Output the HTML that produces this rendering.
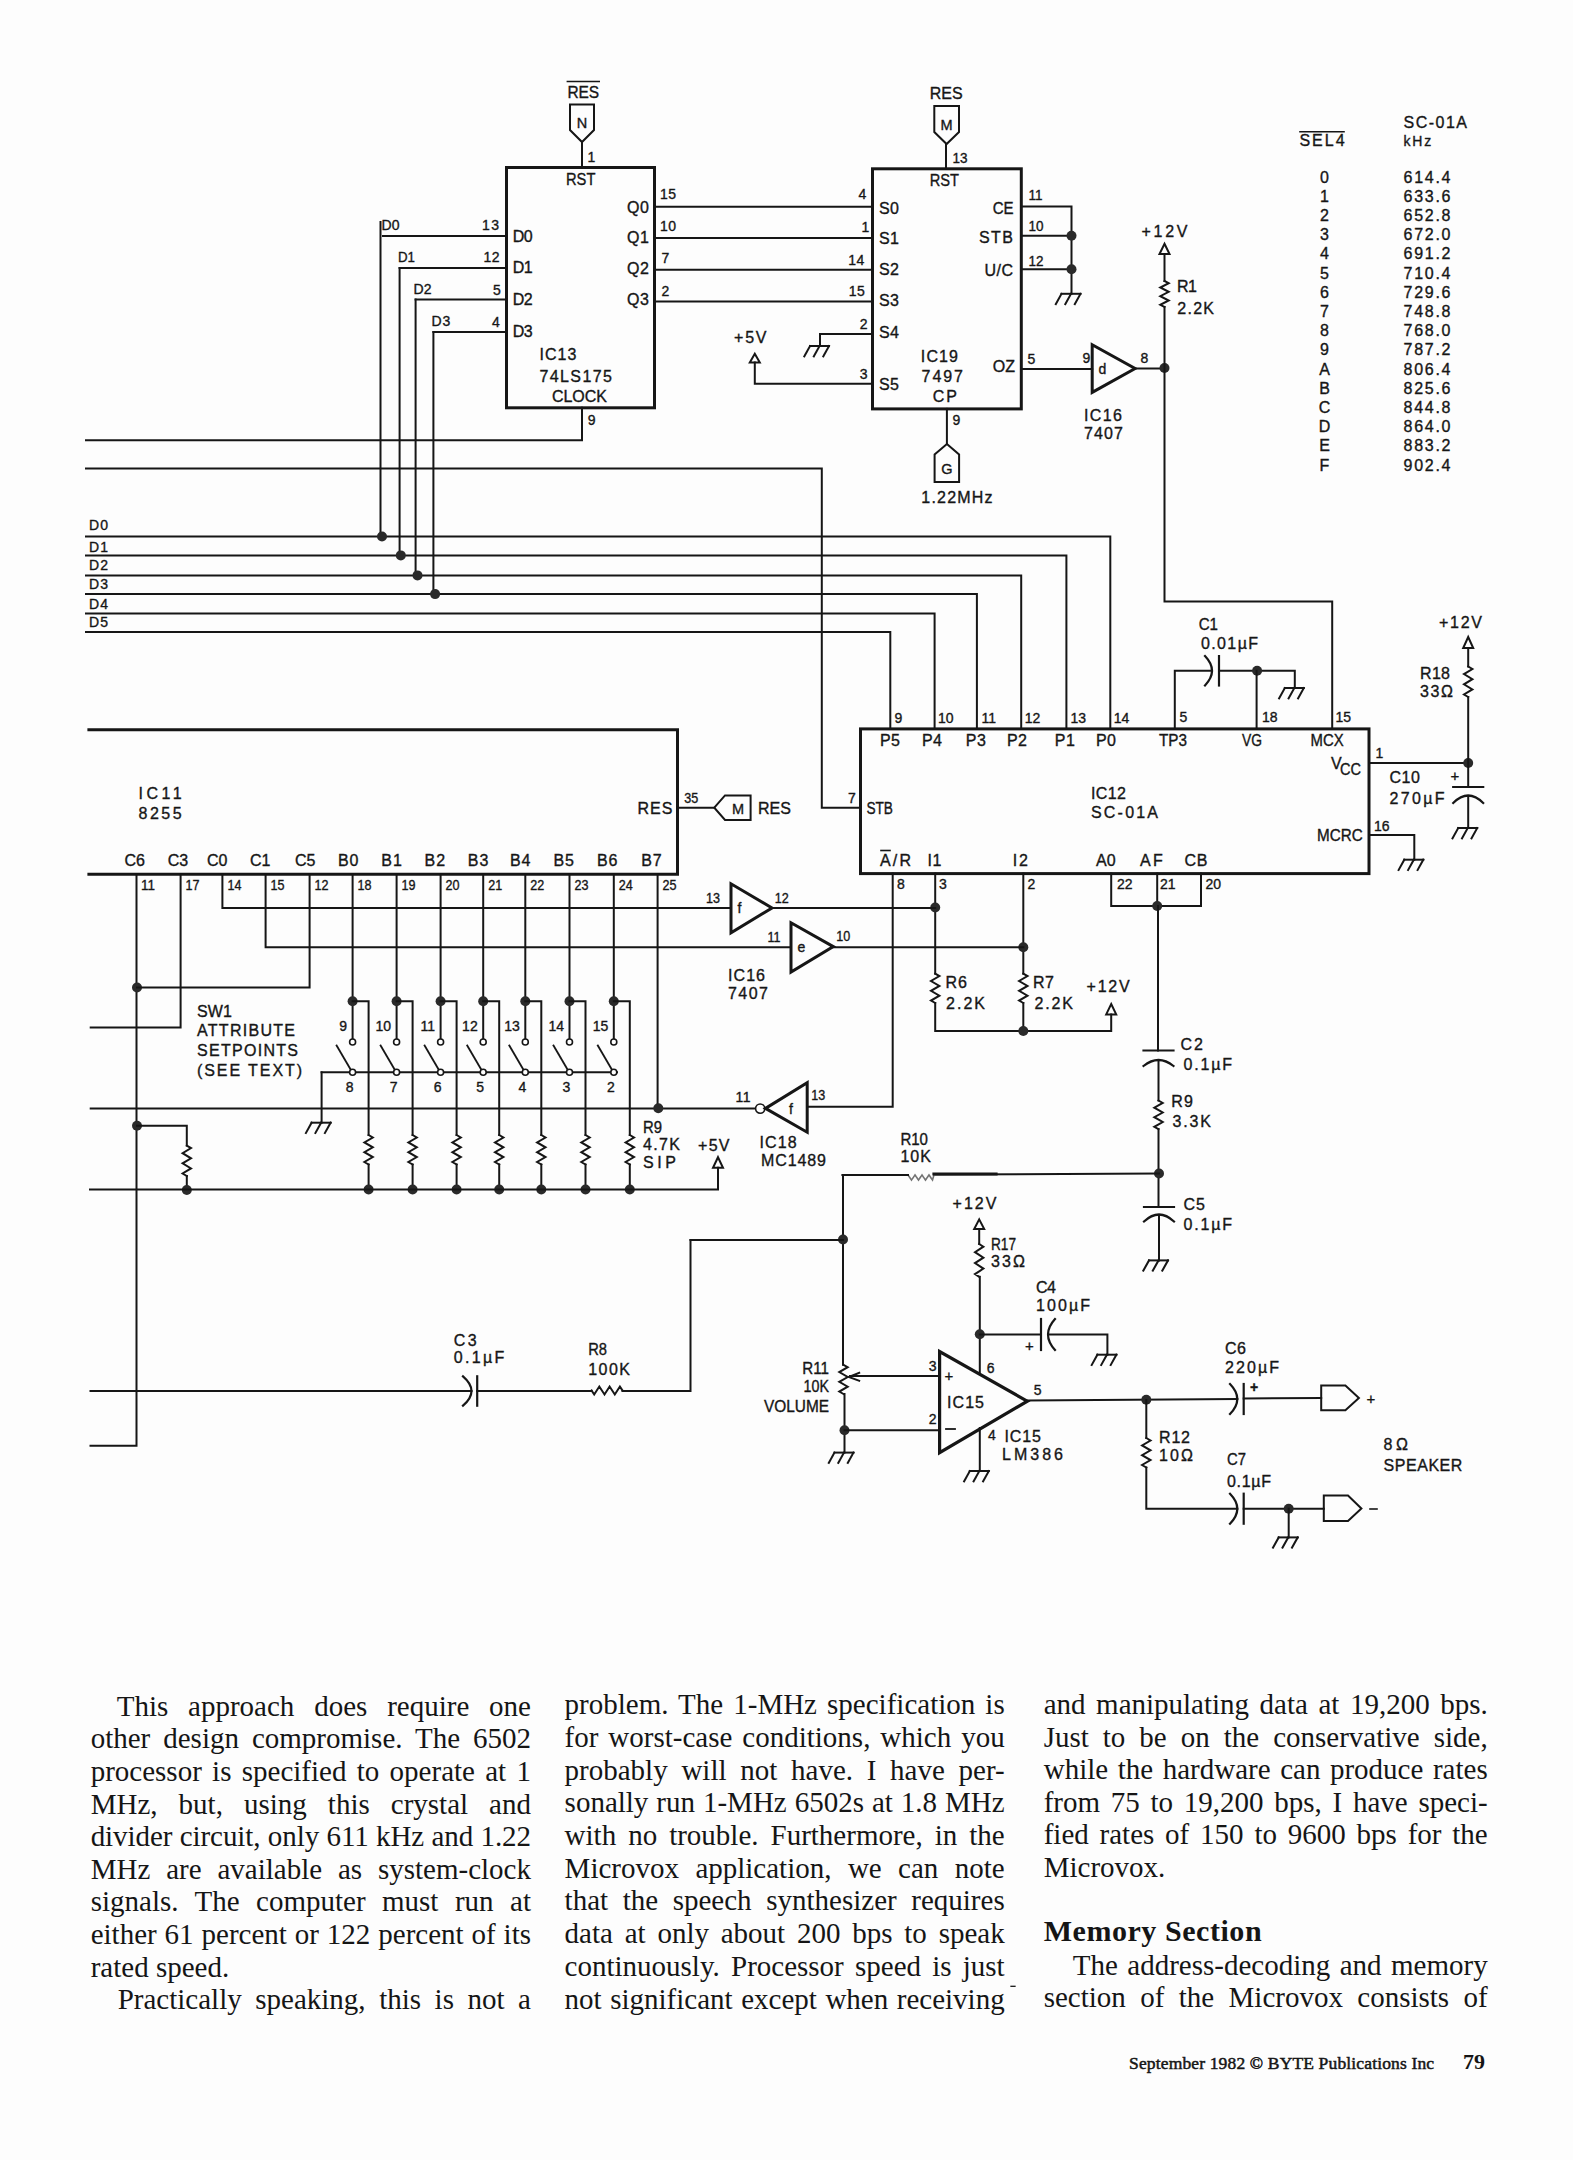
<!DOCTYPE html>
<html><head><meta charset="utf-8"><title>BYTE p79</title>
<style>
html,body{margin:0;padding:0;background:#fdfdfd;}
#pg{position:relative;width:1573px;height:2160px;overflow:hidden;background:#fdfdfd;}
svg{position:absolute;left:0;top:0;}
svg polyline,svg polygon,svg rect,svg path{fill:none;stroke:#161616;stroke-linecap:square;stroke-linejoin:miter;}
svg polygon{stroke-linejoin:miter;}
svg text{font-family:"Liberation Sans",sans-serif;fill:#161616;stroke:#161616;stroke-width:0.35px;}
.ln{position:absolute;height:40px;white-space:nowrap;font-family:"Liberation Serif",serif;font-size:29px;color:#151515;line-height:40px;}
.ln span{position:absolute;left:0;bottom:0;}
.j{text-align:justify;text-align-last:justify;white-space:nowrap;}
.hd{font-weight:bold;font-size:30px;letter-spacing:0.55px;}
.ft{font-family:"Liberation Serif",serif;font-weight:normal;font-size:17.5px;-webkit-text-stroke:0.5px #151515;letter-spacing:0.15px;}
.ft2{font-family:"Liberation Serif",serif;font-weight:bold;font-size:22px;}
</style></head><body><div id="pg">
<svg width="1573" height="2160" viewBox="0 0 1573 2160">
<rect x="506.5" y="167.5" width="148" height="240.3" stroke-width="3"/>
<text x="567.4" y="97.6" font-size="16" textLength="31.8" lengthAdjust="spacingAndGlyphs">RES</text>
<polyline points="567.4,81.5 599.2,81.5" stroke-width="1.6"/>
<polygon points="570,104.5 594,104.5 594,130 582,142 570,130" stroke-width="2" fill="none"/>
<text x="582" y="127.5" font-size="14.5" text-anchor="middle">N</text>
<polyline points="582,142 582,167.5" stroke-width="2"/>
<text x="587.5" y="161.5" font-size="14">1</text>
<text x="566" y="184.6" font-size="16" textLength="29.4" lengthAdjust="spacingAndGlyphs">RST</text>
<polyline points="380.5,222 380.5,536.5" stroke-width="2"/>
<polyline points="383,236 506.5,236" stroke-width="2"/>
<polyline points="399.6,268 506.5,268" stroke-width="2"/>
<polyline points="399.6,268 399.6,555.4" stroke-width="2"/>
<polyline points="415.6,299.5 506.5,299.5" stroke-width="2"/>
<polyline points="415.6,299.5 415.6,575.4" stroke-width="2"/>
<polyline points="433.4,332 506.5,332" stroke-width="2"/>
<polyline points="433.4,332 433.4,594.1" stroke-width="2"/>
<text x="381.5" y="230.4" font-size="14" textLength="18" lengthAdjust="spacing">D0</text>
<text x="398" y="262.2" font-size="14" textLength="17" lengthAdjust="spacingAndGlyphs">D1</text>
<text x="413.6" y="294.2" font-size="14" textLength="18" lengthAdjust="spacing">D2</text>
<text x="431.4" y="326" font-size="14" textLength="19" lengthAdjust="spacing">D3</text>
<text x="482" y="230.4" font-size="14" textLength="17" lengthAdjust="spacing">13</text>
<text x="483.5" y="262.2" font-size="14" textLength="16" lengthAdjust="spacing">12</text>
<text x="493" y="295.2" font-size="14">5</text>
<text x="492" y="327" font-size="14">4</text>
<text x="512.7" y="241.8" font-size="16" textLength="20" lengthAdjust="spacing">D0</text>
<text x="512.7" y="273.1" font-size="16" textLength="20" lengthAdjust="spacing">D1</text>
<text x="512.7" y="304.6" font-size="16" textLength="20" lengthAdjust="spacing">D2</text>
<text x="512.7" y="337.2" font-size="16" textLength="20" lengthAdjust="spacing">D3</text>
<text x="627" y="212.6" font-size="16" textLength="21.8" lengthAdjust="spacing">Q0</text>
<text x="627" y="243" font-size="16" textLength="21.8" lengthAdjust="spacing">Q1</text>
<text x="627" y="273.6" font-size="16" textLength="21.8" lengthAdjust="spacing">Q2</text>
<text x="627" y="305.4" font-size="16" textLength="21.8" lengthAdjust="spacing">Q3</text>
<text x="539.4" y="360" font-size="16" textLength="37.1" lengthAdjust="spacing">IC13</text>
<text x="539.4" y="381.7" font-size="16" textLength="72.6" lengthAdjust="spacing">74LS175</text>
<text x="552" y="402" font-size="16" textLength="54.8" lengthAdjust="spacing">CLOCK</text>
<polyline points="654.5,206.7 872.5,206.7" stroke-width="2"/>
<polyline points="654.5,238 872.5,238" stroke-width="2"/>
<polyline points="654.5,269.8 872.5,269.8" stroke-width="2"/>
<polyline points="654.5,301.6 872.5,301.6" stroke-width="2"/>
<text x="660" y="199.4" font-size="14" textLength="16" lengthAdjust="spacing">15</text>
<text x="660" y="231" font-size="14" textLength="16" lengthAdjust="spacing">10</text>
<text x="661.5" y="263.4" font-size="14">7</text>
<text x="661.5" y="296" font-size="14">2</text>
<text x="858.5" y="199.4" font-size="14">4</text>
<text x="861.6" y="231.6" font-size="14">1</text>
<text x="848.3" y="264.7" font-size="14" textLength="16" lengthAdjust="spacing">14</text>
<text x="848.8" y="296" font-size="14" textLength="16" lengthAdjust="spacing">15</text>
<polyline points="582,407.8 582,440.2 86,440.2" stroke-width="2"/>
<text x="587.8" y="425" font-size="14">9</text>
<rect x="872.5" y="168.8" width="148.8" height="240.1" stroke-width="3"/>
<text x="929.7" y="99.4" font-size="16" textLength="33" lengthAdjust="spacing">RES</text>
<polygon points="934.3,106 959,106 959,132 946.6,144 934.3,132" stroke-width="2" fill="none"/>
<text x="946.6" y="129.5" font-size="14.5" text-anchor="middle">M</text>
<polyline points="946,144 946,168.8" stroke-width="2"/>
<text x="952.6" y="163" font-size="14" textLength="15" lengthAdjust="spacingAndGlyphs">13</text>
<text x="929.7" y="185.9" font-size="16" textLength="29.3" lengthAdjust="spacingAndGlyphs">RST</text>
<text x="878.9" y="213.8" font-size="16" textLength="20" lengthAdjust="spacing">S0</text>
<text x="878.9" y="243.6" font-size="16" textLength="20" lengthAdjust="spacing">S1</text>
<text x="878.9" y="274.8" font-size="16" textLength="20" lengthAdjust="spacing">S2</text>
<text x="878.9" y="306" font-size="16" textLength="20" lengthAdjust="spacing">S3</text>
<text x="878.9" y="338.4" font-size="16" textLength="20" lengthAdjust="spacing">S4</text>
<text x="878.9" y="390" font-size="16" textLength="20" lengthAdjust="spacing">S5</text>
<text x="992.7" y="213.8" font-size="16" textLength="20.9" lengthAdjust="spacingAndGlyphs">CE</text>
<text x="979" y="242.6" font-size="16" textLength="34" lengthAdjust="spacing">STB</text>
<text x="984.4" y="276" font-size="16" textLength="28.6" lengthAdjust="spacing">U/C</text>
<text x="992.7" y="371.5" font-size="16" textLength="22.3" lengthAdjust="spacing">OZ</text>
<text x="920.8" y="362" font-size="16" textLength="37.2" lengthAdjust="spacing">IC19</text>
<text x="921.6" y="381.7" font-size="16" textLength="41.4" lengthAdjust="spacing">7497</text>
<text x="932.8" y="402" font-size="16" textLength="24.2" lengthAdjust="spacing">CP</text>
<text x="859.8" y="329" font-size="14">2</text>
<text x="859.8" y="379" font-size="14">3</text>
<polyline points="872.5,333.9 820,333.9 820,346" stroke-width="2"/>
<polyline points="810,346 829,346" stroke-width="2"/>
<polyline points="810,346 804.3,356.3" stroke-width="2"/>
<polyline points="819.5,346 813.8,356.3" stroke-width="2"/>
<polyline points="829,346 823.3,356.3" stroke-width="2"/>
<polyline points="872.5,383.7 754.8,383.7 754.8,362.6" stroke-width="2"/>
<polygon points="754.8,353.7 759.8,362.6 749.8,362.6" stroke-width="2" fill="#fff"/>
<text x="734" y="342.8" font-size="16" textLength="32.5" lengthAdjust="spacing">+5V</text>
<polyline points="1021.3,206.4 1071.5,206.4 1071.5,293.8" stroke-width="2"/>
<polyline points="1021.3,235.8 1071.5,235.8" stroke-width="2"/>
<polyline points="1021.3,269.2 1071.5,269.2" stroke-width="2"/>
<circle cx="1071.5" cy="235.8" r="5" fill="#2a2a2a" stroke="none"/>
<circle cx="1071.5" cy="269.2" r="5" fill="#2a2a2a" stroke="none"/>
<polyline points="1061.5,293.8 1080.5,293.8" stroke-width="2"/>
<polyline points="1061.5,293.8 1055.8,304.1" stroke-width="2"/>
<polyline points="1071,293.8 1065.3,304.1" stroke-width="2"/>
<polyline points="1080.5,293.8 1074.8,304.1" stroke-width="2"/>
<text x="1028.4" y="199.9" font-size="14" textLength="14" lengthAdjust="spacingAndGlyphs">11</text>
<text x="1028.4" y="231" font-size="14" textLength="15" lengthAdjust="spacingAndGlyphs">10</text>
<text x="1028.4" y="266" font-size="14" textLength="15" lengthAdjust="spacingAndGlyphs">12</text>
<text x="1027.6" y="363.9" font-size="14">5</text>
<polyline points="1021.3,369 1092.2,369" stroke-width="2"/>
<polygon points="1092.2,344.7 1092.2,392.4 1135.1,368.5" stroke-width="3" fill="none"/>
<text x="1098.5" y="374" font-size="14">d</text>
<text x="1082.6" y="363" font-size="14">9</text>
<text x="1140.6" y="363" font-size="14">8</text>
<polyline points="1135.1,368.5 1164.5,368.5" stroke-width="2"/>
<circle cx="1164.5" cy="368" r="5" fill="#2a2a2a" stroke="none"/>
<text x="1083.9" y="420.5" font-size="16" textLength="37.9" lengthAdjust="spacing">IC16</text>
<text x="1083.9" y="438.8" font-size="16" textLength="39.1" lengthAdjust="spacing">7407</text>
<text x="1141.4" y="236.6" font-size="16" textLength="46.1" lengthAdjust="spacing">+12V</text>
<polygon points="1164.5,243.8 1169.5,254.1 1159.5,254.1" stroke-width="2" fill="#fff"/>
<polyline points="1164.5,254.1 1164.5,281" stroke-width="2"/>
<polyline points="1164.5,281 1168.7,283.2 1160.3,287.5 1168.7,291.8 1160.3,296.2 1168.7,300.5 1160.3,304.8 1164.5,307" stroke-width="2"/>
<polyline points="1164.5,307 1164.5,601.6 1332.2,601.6 1332.2,728.8" stroke-width="2"/>
<text x="1177" y="292" font-size="16" textLength="20" lengthAdjust="spacing">R1</text>
<text x="1177.2" y="313.7" font-size="16" textLength="36.8" lengthAdjust="spacing">2.2K</text>
<polyline points="946.9,408.9 946.9,444" stroke-width="2"/>
<polygon points="946.9,444 959.1,454.5 959.1,481.9 934.6,481.9 934.6,454.5" stroke-width="2" fill="none"/>
<text x="946.9" y="474" font-size="14.5" text-anchor="middle">G</text>
<text x="952.6" y="425" font-size="14">9</text>
<text x="921.3" y="503.4" font-size="16" textLength="71.2" lengthAdjust="spacing">1.22MHz</text>
<text x="1403.5" y="127.8" font-size="16" textLength="63.5" lengthAdjust="spacing">SC-01A</text>
<text x="1403.5" y="146" font-size="14" textLength="27.8" lengthAdjust="spacing">kHz</text>
<text x="1299.4" y="146" font-size="16" textLength="45.3" lengthAdjust="spacing">SEL4</text>
<polyline points="1300,131.8 1344,131.8" stroke-width="1.6"/>
<text x="1324.5" y="182.6" font-size="16" text-anchor="middle">0</text>
<text x="1403.5" y="182.6" font-size="16" textLength="47" lengthAdjust="spacing">614.4</text>
<text x="1324.5" y="201.8" font-size="16" text-anchor="middle">1</text>
<text x="1403.5" y="201.8" font-size="16" textLength="47" lengthAdjust="spacing">633.6</text>
<text x="1324.5" y="221" font-size="16" text-anchor="middle">2</text>
<text x="1403.5" y="221" font-size="16" textLength="47" lengthAdjust="spacing">652.8</text>
<text x="1324.5" y="240.2" font-size="16" text-anchor="middle">3</text>
<text x="1403.5" y="240.2" font-size="16" textLength="47" lengthAdjust="spacing">672.0</text>
<text x="1324.5" y="259.4" font-size="16" text-anchor="middle">4</text>
<text x="1403.5" y="259.4" font-size="16" textLength="47" lengthAdjust="spacing">691.2</text>
<text x="1324.5" y="278.6" font-size="16" text-anchor="middle">5</text>
<text x="1403.5" y="278.6" font-size="16" textLength="47" lengthAdjust="spacing">710.4</text>
<text x="1324.5" y="297.8" font-size="16" text-anchor="middle">6</text>
<text x="1403.5" y="297.8" font-size="16" textLength="47" lengthAdjust="spacing">729.6</text>
<text x="1324.5" y="317" font-size="16" text-anchor="middle">7</text>
<text x="1403.5" y="317" font-size="16" textLength="47" lengthAdjust="spacing">748.8</text>
<text x="1324.5" y="336.2" font-size="16" text-anchor="middle">8</text>
<text x="1403.5" y="336.2" font-size="16" textLength="47" lengthAdjust="spacing">768.0</text>
<text x="1324.5" y="355.4" font-size="16" text-anchor="middle">9</text>
<text x="1403.5" y="355.4" font-size="16" textLength="47" lengthAdjust="spacing">787.2</text>
<text x="1324.5" y="374.6" font-size="16" text-anchor="middle">A</text>
<text x="1403.5" y="374.6" font-size="16" textLength="47" lengthAdjust="spacing">806.4</text>
<text x="1324.5" y="393.8" font-size="16" text-anchor="middle">B</text>
<text x="1403.5" y="393.8" font-size="16" textLength="47" lengthAdjust="spacing">825.6</text>
<text x="1324.5" y="413" font-size="16" text-anchor="middle">C</text>
<text x="1403.5" y="413" font-size="16" textLength="47" lengthAdjust="spacing">844.8</text>
<text x="1324.5" y="432.2" font-size="16" text-anchor="middle">D</text>
<text x="1403.5" y="432.2" font-size="16" textLength="47" lengthAdjust="spacing">864.0</text>
<text x="1324.5" y="451.4" font-size="16" text-anchor="middle">E</text>
<text x="1403.5" y="451.4" font-size="16" textLength="47" lengthAdjust="spacing">883.2</text>
<text x="1324.5" y="470.6" font-size="16" text-anchor="middle">F</text>
<text x="1403.5" y="470.6" font-size="16" textLength="47" lengthAdjust="spacing">902.4</text>
<polyline points="86,468.5 821.8,468.5 821.8,807.7 860.5,807.7" stroke-width="2"/>
<text x="848" y="803.3" font-size="14">7</text>
<polyline points="86,536.5 1110.3,536.5 1110.3,728.9" stroke-width="2"/>
<text x="89" y="530.2" font-size="14" textLength="19" lengthAdjust="spacing">D0</text>
<polyline points="86,555.4 1066.4,555.4 1066.4,728.9" stroke-width="2"/>
<text x="89" y="552" font-size="14" textLength="19" lengthAdjust="spacing">D1</text>
<polyline points="86,575.4 1021.2,575.4 1021.2,728.9" stroke-width="2"/>
<text x="89" y="570" font-size="14" textLength="19" lengthAdjust="spacing">D2</text>
<polyline points="86,594.1 976.9,594.1 976.9,728.9" stroke-width="2"/>
<text x="89" y="589.4" font-size="14" textLength="19" lengthAdjust="spacing">D3</text>
<polyline points="86,613.6 934.6,613.6 934.6,728.9" stroke-width="2"/>
<text x="89" y="609" font-size="14" textLength="19" lengthAdjust="spacing">D4</text>
<polyline points="86,632 890.3,632 890.3,728.9" stroke-width="2"/>
<text x="89" y="626.8" font-size="14" textLength="19" lengthAdjust="spacing">D5</text>
<circle cx="382" cy="536.5" r="5" fill="#2a2a2a" stroke="none"/>
<circle cx="400.8" cy="555.4" r="5" fill="#2a2a2a" stroke="none"/>
<circle cx="417.5" cy="575.4" r="5" fill="#2a2a2a" stroke="none"/>
<circle cx="435.1" cy="594.1" r="5" fill="#2a2a2a" stroke="none"/>
<rect x="860.5" y="728.9" width="508.5" height="144.7" stroke-width="3"/>
<text x="894.6" y="722.6" font-size="14">9</text>
<text x="938" y="722.6" font-size="14">10</text>
<text x="981.4" y="722.6" font-size="14">11</text>
<text x="1024.7" y="722.6" font-size="14">12</text>
<text x="1070.4" y="722.6" font-size="14">13</text>
<text x="1113.7" y="722.6" font-size="14">14</text>
<text x="1179.6" y="722.4" font-size="14">5</text>
<text x="1262" y="722.4" font-size="14">18</text>
<text x="1335.5" y="722.4" font-size="14">15</text>
<text x="880" y="746" font-size="16" textLength="20" lengthAdjust="spacing">P5</text>
<text x="922" y="746" font-size="16" textLength="20" lengthAdjust="spacing">P4</text>
<text x="965.8" y="746" font-size="16" textLength="20" lengthAdjust="spacing">P3</text>
<text x="1007" y="746" font-size="16" textLength="20" lengthAdjust="spacing">P2</text>
<text x="1054.8" y="746" font-size="16" textLength="20" lengthAdjust="spacing">P1</text>
<text x="1096" y="746" font-size="16" textLength="20" lengthAdjust="spacing">P0</text>
<text x="1159" y="745.8" font-size="16" textLength="28" lengthAdjust="spacingAndGlyphs">TP3</text>
<text x="1242" y="745.8" font-size="16" textLength="20" lengthAdjust="spacingAndGlyphs">VG</text>
<text x="1310.5" y="745.8" font-size="16" textLength="33.1" lengthAdjust="spacingAndGlyphs">MCX</text>
<text x="1091" y="799" font-size="16" textLength="35" lengthAdjust="spacing">IC12</text>
<text x="1091" y="818" font-size="16" textLength="67" lengthAdjust="spacing">SC-01A</text>
<text x="866.4" y="813.6" font-size="16" textLength="26.6" lengthAdjust="spacingAndGlyphs">STB</text>
<text x="1331" y="769.4" font-size="16">V</text>
<text x="1340" y="775" font-size="16" textLength="21" lengthAdjust="spacingAndGlyphs">CC</text>
<text x="1317" y="840.6" font-size="16" textLength="45.7" lengthAdjust="spacingAndGlyphs">MCRC</text>
<text x="880" y="865.6" font-size="16" textLength="31" lengthAdjust="spacing">A/R</text>
<polyline points="881,850.5 890,850.5" stroke-width="1.6"/>
<text x="927.6" y="865.6" font-size="16" textLength="13.9" lengthAdjust="spacing">I1</text>
<text x="1012.7" y="865.6" font-size="16" textLength="15.3" lengthAdjust="spacing">I2</text>
<text x="1096" y="865.6" font-size="16" textLength="19.7" lengthAdjust="spacing">A0</text>
<text x="1140" y="865.6" font-size="16" textLength="22.8" lengthAdjust="spacing">AF</text>
<text x="1184.4" y="865.6" font-size="16" textLength="22.9" lengthAdjust="spacing">CB</text>
<polyline points="1369,763 1468.2,763" stroke-width="2"/>
<text x="1375.4" y="758" font-size="14">1</text>
<circle cx="1468.2" cy="763" r="5" fill="#2a2a2a" stroke="none"/>
<text x="1439" y="627.8" font-size="16" textLength="43" lengthAdjust="spacing">+12V</text>
<polygon points="1468.2,637 1473.2,648 1463.2,648" stroke-width="2" fill="#fff"/>
<polyline points="1468.2,648 1468.2,666.5" stroke-width="2"/>
<polyline points="1468.2,666.5 1472.4,669 1464,674.1 1472.4,679.2 1464,684.3 1472.4,689.4 1464,694.5 1468.2,697" stroke-width="2"/>
<polyline points="1468.2,697 1468.2,786.5" stroke-width="2"/>
<polyline points="1453.2,787 1483.2,787" stroke-width="2.2"/>
<path d="M1453.2,803 Q1468.2,788 1483.2,803" stroke-width="2.2"/>
<polyline points="1468.2,796 1468.2,828" stroke-width="2"/>
<polyline points="1458.2,828 1477.2,828" stroke-width="2"/>
<polyline points="1458.2,828 1452.5,838.3" stroke-width="2"/>
<polyline points="1467.7,828 1462,838.3" stroke-width="2"/>
<polyline points="1477.2,828 1471.5,838.3" stroke-width="2"/>
<text x="1420" y="679" font-size="16" textLength="30" lengthAdjust="spacing">R18</text>
<text x="1420" y="697" font-size="16" textLength="33" lengthAdjust="spacing">33Ω</text>
<text x="1389.4" y="783.4" font-size="16" textLength="30.6" lengthAdjust="spacing">C10</text>
<text x="1389.4" y="803.8" font-size="16" textLength="55.1" lengthAdjust="spacing">270µF</text>
<text x="1450.5" y="781" font-size="15">+</text>
<polyline points="1369,835 1414.3,835 1414.3,859.7" stroke-width="2"/>
<polyline points="1404.3,859.7 1423.3,859.7" stroke-width="2"/>
<polyline points="1404.3,859.7 1398.6,870" stroke-width="2"/>
<polyline points="1413.8,859.7 1408.1,870" stroke-width="2"/>
<polyline points="1423.3,859.7 1417.6,870" stroke-width="2"/>
<text x="1374" y="830.5" font-size="14">16</text>
<polyline points="1174.8,728.8 1174.8,670.8 1212,670.8" stroke-width="2"/>
<polyline points="1219,656.1 1219,685.5" stroke-width="2.2"/>
<path d="M1205,656.1 Q1219,670.8 1205,685.5" stroke-width="2.2"/>
<polyline points="1219,670.8 1294.8,670.8 1294.8,688" stroke-width="2"/>
<circle cx="1257.1" cy="670.8" r="5" fill="#2a2a2a" stroke="none"/>
<polyline points="1256.6,670.8 1256.6,728.8" stroke-width="2"/>
<polyline points="1284.8,688 1303.8,688" stroke-width="2"/>
<polyline points="1284.8,688 1279.1,698.3" stroke-width="2"/>
<polyline points="1294.3,688 1288.6,698.3" stroke-width="2"/>
<polyline points="1303.8,688 1298.1,698.3" stroke-width="2"/>
<text x="1198.7" y="629.6" font-size="16" textLength="19.3" lengthAdjust="spacingAndGlyphs">C1</text>
<text x="1201" y="648.7" font-size="16" textLength="57" lengthAdjust="spacing">0.01µF</text>
<text x="897" y="889" font-size="14">8</text>
<text x="939" y="889" font-size="14">3</text>
<text x="1027.5" y="889" font-size="14">2</text>
<text x="1117" y="889" font-size="14">22</text>
<text x="1160" y="889" font-size="14">21</text>
<text x="1205.5" y="889" font-size="14">20</text>
<polyline points="892.7,873.6 892.7,1106.8 807.2,1106.8" stroke-width="2"/>
<polyline points="935.2,873.6 935.2,973.7" stroke-width="2"/>
<circle cx="935.2" cy="907.5" r="5" fill="#2a2a2a" stroke="none"/>
<polyline points="935.2,973.7 939.4,976.1 931,981 939.4,985.9 931,990.8 939.4,995.7 931,1000.6 935.2,1003" stroke-width="2"/>
<polyline points="935.2,1003 935.2,1031 1111.2,1031 1111.2,1014.4" stroke-width="2"/>
<polygon points="1111.2,1004 1116.2,1014.4 1106.2,1014.4" stroke-width="2" fill="#fff"/>
<polyline points="1023.3,873.6 1023.3,973.7" stroke-width="2"/>
<circle cx="1023.3" cy="947.3" r="5" fill="#2a2a2a" stroke="none"/>
<polyline points="1023.3,973.7 1027.5,976.1 1019.1,981 1027.5,985.9 1019.1,990.8 1027.5,995.7 1019.1,1000.6 1023.3,1003" stroke-width="2"/>
<polyline points="1023.3,1003 1023.3,1031" stroke-width="2"/>
<circle cx="1023.3" cy="1031" r="5" fill="#2a2a2a" stroke="none"/>
<text x="945.4" y="988.2" font-size="16" textLength="21.6" lengthAdjust="spacing">R6</text>
<text x="946" y="1009.3" font-size="16" textLength="39" lengthAdjust="spacing">2.2K</text>
<text x="1033" y="988.2" font-size="16" textLength="21" lengthAdjust="spacing">R7</text>
<text x="1034.4" y="1009.3" font-size="16" textLength="38.6" lengthAdjust="spacing">2.2K</text>
<text x="1086.5" y="992.2" font-size="16" textLength="43.2" lengthAdjust="spacing">+12V</text>
<polyline points="1111.2,873.6 1111.2,906 1201,906 1201,873.6" stroke-width="2"/>
<polyline points="1157.2,873.6 1157.2,906" stroke-width="2"/>
<circle cx="1157.2" cy="906" r="5" fill="#2a2a2a" stroke="none"/>
<polyline points="1158,906 1158,1050.5" stroke-width="2"/>
<polyline points="1143.5,1050.5 1173.5,1050.5" stroke-width="2.2"/>
<path d="M1143.5,1066 Q1158.5,1054 1173.5,1066" stroke-width="2.2"/>
<polyline points="1158.5,1060 1158.5,1100.5" stroke-width="2"/>
<polyline points="1158.5,1100.5 1162.7,1102.9 1154.3,1107.7 1162.7,1112.5 1154.3,1117.2 1162.7,1122 1154.3,1126.8 1158.5,1129.2" stroke-width="2"/>
<polyline points="1158.5,1129.2 1158.5,1207" stroke-width="2"/>
<circle cx="1159" cy="1173.5" r="5" fill="#2a2a2a" stroke="none"/>
<polyline points="1144,1207 1174,1207" stroke-width="2.2"/>
<path d="M1144,1221.5 Q1159,1207.5 1174,1221.5" stroke-width="2.2"/>
<polyline points="1159,1216 1159,1260.4" stroke-width="2"/>
<polyline points="1149,1260.4 1168,1260.4" stroke-width="2"/>
<polyline points="1149,1260.4 1143.3,1270.7" stroke-width="2"/>
<polyline points="1158.5,1260.4 1152.8,1270.7" stroke-width="2"/>
<polyline points="1168,1260.4 1162.3,1270.7" stroke-width="2"/>
<text x="1180.6" y="1050" font-size="16" textLength="22.4" lengthAdjust="spacing">C2</text>
<text x="1183.6" y="1070.3" font-size="16" textLength="48.4" lengthAdjust="spacing">0.1µF</text>
<text x="1171.3" y="1107.3" font-size="16" textLength="21.7" lengthAdjust="spacing">R9</text>
<text x="1172.6" y="1126.5" font-size="16" textLength="38.4" lengthAdjust="spacing">3.3K</text>
<text x="1183.6" y="1209.9" font-size="16" textLength="21.4" lengthAdjust="spacing">C5</text>
<text x="1183.6" y="1229.8" font-size="16" textLength="48.4" lengthAdjust="spacing">0.1µF</text>
<polyline points="88.9,729.7 677.5,729.7 677.5,874.2 88.9,874.2" stroke-width="3"/>
<text x="138.5" y="799.3" font-size="16" textLength="43.2" lengthAdjust="spacing">IC11</text>
<text x="138.5" y="819.2" font-size="16" textLength="43.2" lengthAdjust="spacing">8255</text>
<text x="637.4" y="813.6" font-size="16" textLength="35.1" lengthAdjust="spacing">RES</text>
<polyline points="677.5,807.7 714.3,807.7" stroke-width="2"/>
<polygon points="714.3,807.7 725,795.4 750.6,795.4 750.6,820 725,820" stroke-width="2" fill="none"/>
<text x="738" y="813.5" font-size="14.5" text-anchor="middle">M</text>
<text x="758" y="813.6" font-size="16" textLength="33" lengthAdjust="spacing">RES</text>
<text x="684.2" y="803.3" font-size="14" textLength="14" lengthAdjust="spacingAndGlyphs">35</text>
<text x="124.5" y="866" font-size="16" textLength="20.5" lengthAdjust="spacing">C6</text>
<text x="167.7" y="866" font-size="16" textLength="20.5" lengthAdjust="spacing">C3</text>
<text x="207" y="866" font-size="16" textLength="20.5" lengthAdjust="spacing">C0</text>
<text x="250" y="866" font-size="16" textLength="20.5" lengthAdjust="spacing">C1</text>
<text x="295" y="866" font-size="16" textLength="20.5" lengthAdjust="spacing">C5</text>
<text x="338" y="866" font-size="16" textLength="20.5" lengthAdjust="spacing">B0</text>
<text x="381.3" y="866" font-size="16" textLength="20.5" lengthAdjust="spacing">B1</text>
<text x="424.6" y="866" font-size="16" textLength="20.5" lengthAdjust="spacing">B2</text>
<text x="467.8" y="866" font-size="16" textLength="20.5" lengthAdjust="spacing">B3</text>
<text x="510" y="866" font-size="16" textLength="20.5" lengthAdjust="spacing">B4</text>
<text x="553.5" y="866" font-size="16" textLength="20.5" lengthAdjust="spacing">B5</text>
<text x="597" y="866" font-size="16" textLength="20.5" lengthAdjust="spacing">B6</text>
<text x="641.2" y="866" font-size="16" textLength="20.5" lengthAdjust="spacing">B7</text>
<text x="140.9" y="890" font-size="14" textLength="14" lengthAdjust="spacingAndGlyphs">11</text>
<text x="185.6" y="890" font-size="14" textLength="14" lengthAdjust="spacingAndGlyphs">17</text>
<text x="227.4" y="890" font-size="14" textLength="14" lengthAdjust="spacingAndGlyphs">14</text>
<text x="270.6" y="890" font-size="14" textLength="14" lengthAdjust="spacingAndGlyphs">15</text>
<text x="314.6" y="890" font-size="14" textLength="14" lengthAdjust="spacingAndGlyphs">12</text>
<text x="357.6" y="890" font-size="14" textLength="14" lengthAdjust="spacingAndGlyphs">18</text>
<text x="401.6" y="890" font-size="14" textLength="14" lengthAdjust="spacingAndGlyphs">19</text>
<text x="445.6" y="890" font-size="14" textLength="14" lengthAdjust="spacingAndGlyphs">20</text>
<text x="488.2" y="890" font-size="14" textLength="14" lengthAdjust="spacingAndGlyphs">21</text>
<text x="530.3" y="890" font-size="14" textLength="14" lengthAdjust="spacingAndGlyphs">22</text>
<text x="574.5" y="890" font-size="14" textLength="14" lengthAdjust="spacingAndGlyphs">23</text>
<text x="618.8" y="890" font-size="14" textLength="14" lengthAdjust="spacingAndGlyphs">24</text>
<text x="662.6" y="890" font-size="14" textLength="14" lengthAdjust="spacingAndGlyphs">25</text>
<polyline points="136.5,874.2 136.5,1445.7 90.5,1445.7" stroke-width="2"/>
<circle cx="137" cy="987.5" r="5" fill="#2a2a2a" stroke="none"/>
<circle cx="137" cy="1125.8" r="5" fill="#2a2a2a" stroke="none"/>
<polyline points="180.6,874.2 180.6,1027.4 90.7,1027.4" stroke-width="2"/>
<polyline points="222.4,874.2 222.4,908 731,908" stroke-width="2"/>
<polyline points="265.6,874.2 265.6,947.3 791,947.3" stroke-width="2"/>
<polyline points="309.6,874.2 309.6,987.5 137,987.5" stroke-width="2"/>
<polygon points="731,883.8 731,932.9 772,908" stroke-width="3" fill="none"/>
<polyline points="772,908 935.2,908" stroke-width="2"/>
<text x="737.5" y="913" font-size="14">f</text>
<text x="706" y="902.8" font-size="14" textLength="14" lengthAdjust="spacingAndGlyphs">13</text>
<text x="774.8" y="902.8" font-size="14" textLength="14" lengthAdjust="spacingAndGlyphs">12</text>
<polygon points="791,922.7 791,972 833.3,946.6" stroke-width="3" fill="none"/>
<polyline points="833.3,947.3 1023.3,947.3" stroke-width="2"/>
<text x="797.5" y="952" font-size="14">e</text>
<text x="767.5" y="942" font-size="14" textLength="13" lengthAdjust="spacingAndGlyphs">11</text>
<text x="836.2" y="940.8" font-size="14" textLength="14" lengthAdjust="spacingAndGlyphs">10</text>
<text x="728" y="981" font-size="16" textLength="37" lengthAdjust="spacing">IC16</text>
<text x="728" y="998.5" font-size="16" textLength="40" lengthAdjust="spacing">7407</text>
<polyline points="321.6,1072.3 617,1072.3" stroke-width="2"/>
<polyline points="321.6,1072.3 321.6,1122.7" stroke-width="2"/>
<polyline points="311.6,1122.7 330.6,1122.7" stroke-width="2"/>
<polyline points="311.6,1122.7 305.9,1133" stroke-width="2"/>
<polyline points="321.1,1122.7 315.4,1133" stroke-width="2"/>
<polyline points="330.6,1122.7 324.9,1133" stroke-width="2"/>
<polyline points="352.6,874.2 352.6,1039" stroke-width="2"/>
<circle cx="352.6" cy="1001.2" r="5" fill="#2a2a2a" stroke="none"/>
<polyline points="352.6,1001.2 368.6,1001.2 368.6,1135" stroke-width="2"/>
<polyline points="368.6,1135 372.8,1137.5 364.4,1142.4 372.8,1147.3 364.4,1152.2 372.8,1157.1 364.4,1162 368.6,1164.5" stroke-width="2"/>
<polyline points="368.6,1164.5 368.6,1189.5" stroke-width="2"/>
<circle cx="368.6" cy="1189.5" r="5" fill="#2a2a2a" stroke="none"/>
<circle cx="352.6" cy="1042" r="3" fill="#fff" stroke="#161616" stroke-width="1.6"/>
<polyline points="336.6,1045.5 350.6,1069.5" stroke-width="1.8"/>
<circle cx="352.6" cy="1072.3" r="3" fill="#fff" stroke="#161616" stroke-width="1.6"/>
<text x="347.1" y="1030.5" font-size="14" text-anchor="end">9</text>
<text x="349.6" y="1091.8" font-size="14" text-anchor="middle">8</text>
<polyline points="396.6,874.2 396.6,1039" stroke-width="2"/>
<circle cx="396.6" cy="1001.2" r="5" fill="#2a2a2a" stroke="none"/>
<polyline points="396.6,1001.2 412.6,1001.2 412.6,1135" stroke-width="2"/>
<polyline points="412.6,1135 416.8,1137.5 408.4,1142.4 416.8,1147.3 408.4,1152.2 416.8,1157.1 408.4,1162 412.6,1164.5" stroke-width="2"/>
<polyline points="412.6,1164.5 412.6,1189.5" stroke-width="2"/>
<circle cx="412.6" cy="1189.5" r="5" fill="#2a2a2a" stroke="none"/>
<circle cx="396.6" cy="1042" r="3" fill="#fff" stroke="#161616" stroke-width="1.6"/>
<polyline points="380.6,1045.5 394.6,1069.5" stroke-width="1.8"/>
<circle cx="396.6" cy="1072.3" r="3" fill="#fff" stroke="#161616" stroke-width="1.6"/>
<text x="391.1" y="1030.5" font-size="14" text-anchor="end">10</text>
<text x="393.6" y="1091.8" font-size="14" text-anchor="middle">7</text>
<polyline points="440.6,874.2 440.6,1039" stroke-width="2"/>
<circle cx="440.6" cy="1001.2" r="5" fill="#2a2a2a" stroke="none"/>
<polyline points="440.6,1001.2 456.6,1001.2 456.6,1135" stroke-width="2"/>
<polyline points="456.6,1135 460.8,1137.5 452.4,1142.4 460.8,1147.3 452.4,1152.2 460.8,1157.1 452.4,1162 456.6,1164.5" stroke-width="2"/>
<polyline points="456.6,1164.5 456.6,1189.5" stroke-width="2"/>
<circle cx="456.6" cy="1189.5" r="5" fill="#2a2a2a" stroke="none"/>
<circle cx="440.6" cy="1042" r="3" fill="#fff" stroke="#161616" stroke-width="1.6"/>
<polyline points="424.6,1045.5 438.6,1069.5" stroke-width="1.8"/>
<circle cx="440.6" cy="1072.3" r="3" fill="#fff" stroke="#161616" stroke-width="1.6"/>
<text x="435.1" y="1030.5" font-size="14" text-anchor="end">11</text>
<text x="437.6" y="1091.8" font-size="14" text-anchor="middle">6</text>
<polyline points="483.2,874.2 483.2,1039" stroke-width="2"/>
<circle cx="483.2" cy="1001.2" r="5" fill="#2a2a2a" stroke="none"/>
<polyline points="483.2,1001.2 499.2,1001.2 499.2,1135" stroke-width="2"/>
<polyline points="499.2,1135 503.4,1137.5 495,1142.4 503.4,1147.3 495,1152.2 503.4,1157.1 495,1162 499.2,1164.5" stroke-width="2"/>
<polyline points="499.2,1164.5 499.2,1189.5" stroke-width="2"/>
<circle cx="499.2" cy="1189.5" r="5" fill="#2a2a2a" stroke="none"/>
<circle cx="483.2" cy="1042" r="3" fill="#fff" stroke="#161616" stroke-width="1.6"/>
<polyline points="467.2,1045.5 481.2,1069.5" stroke-width="1.8"/>
<circle cx="483.2" cy="1072.3" r="3" fill="#fff" stroke="#161616" stroke-width="1.6"/>
<text x="477.7" y="1030.5" font-size="14" text-anchor="end">12</text>
<text x="480.2" y="1091.8" font-size="14" text-anchor="middle">5</text>
<polyline points="525.3,874.2 525.3,1039" stroke-width="2"/>
<circle cx="525.3" cy="1001.2" r="5" fill="#2a2a2a" stroke="none"/>
<polyline points="525.3,1001.2 541.3,1001.2 541.3,1135" stroke-width="2"/>
<polyline points="541.3,1135 545.5,1137.5 537.1,1142.4 545.5,1147.3 537.1,1152.2 545.5,1157.1 537.1,1162 541.3,1164.5" stroke-width="2"/>
<polyline points="541.3,1164.5 541.3,1189.5" stroke-width="2"/>
<circle cx="541.3" cy="1189.5" r="5" fill="#2a2a2a" stroke="none"/>
<circle cx="525.3" cy="1042" r="3" fill="#fff" stroke="#161616" stroke-width="1.6"/>
<polyline points="509.3,1045.5 523.3,1069.5" stroke-width="1.8"/>
<circle cx="525.3" cy="1072.3" r="3" fill="#fff" stroke="#161616" stroke-width="1.6"/>
<text x="519.8" y="1030.5" font-size="14" text-anchor="end">13</text>
<text x="522.3" y="1091.8" font-size="14" text-anchor="middle">4</text>
<polyline points="569.5,874.2 569.5,1039" stroke-width="2"/>
<circle cx="569.5" cy="1001.2" r="5" fill="#2a2a2a" stroke="none"/>
<polyline points="569.5,1001.2 585.5,1001.2 585.5,1135" stroke-width="2"/>
<polyline points="585.5,1135 589.7,1137.5 581.3,1142.4 589.7,1147.3 581.3,1152.2 589.7,1157.1 581.3,1162 585.5,1164.5" stroke-width="2"/>
<polyline points="585.5,1164.5 585.5,1189.5" stroke-width="2"/>
<circle cx="585.5" cy="1189.5" r="5" fill="#2a2a2a" stroke="none"/>
<circle cx="569.5" cy="1042" r="3" fill="#fff" stroke="#161616" stroke-width="1.6"/>
<polyline points="553.5,1045.5 567.5,1069.5" stroke-width="1.8"/>
<circle cx="569.5" cy="1072.3" r="3" fill="#fff" stroke="#161616" stroke-width="1.6"/>
<text x="564" y="1030.5" font-size="14" text-anchor="end">14</text>
<text x="566.5" y="1091.8" font-size="14" text-anchor="middle">3</text>
<polyline points="613.8,874.2 613.8,1039" stroke-width="2"/>
<circle cx="613.8" cy="1001.2" r="5" fill="#2a2a2a" stroke="none"/>
<polyline points="613.8,1001.2 629.8,1001.2 629.8,1135" stroke-width="2"/>
<polyline points="629.8,1135 634,1137.5 625.6,1142.4 634,1147.3 625.6,1152.2 634,1157.1 625.6,1162 629.8,1164.5" stroke-width="2"/>
<polyline points="629.8,1164.5 629.8,1189.5" stroke-width="2"/>
<circle cx="629.8" cy="1189.5" r="5" fill="#2a2a2a" stroke="none"/>
<circle cx="613.8" cy="1042" r="3" fill="#fff" stroke="#161616" stroke-width="1.6"/>
<polyline points="597.8,1045.5 611.8,1069.5" stroke-width="1.8"/>
<circle cx="613.8" cy="1072.3" r="3" fill="#fff" stroke="#161616" stroke-width="1.6"/>
<text x="608.3" y="1030.5" font-size="14" text-anchor="end">15</text>
<text x="610.8" y="1091.8" font-size="14" text-anchor="middle">2</text>
<text x="197" y="1017.2" font-size="16" textLength="35" lengthAdjust="spacing">SW1</text>
<text x="197" y="1035.8" font-size="16" textLength="98" lengthAdjust="spacing">ATTRIBUTE</text>
<text x="197" y="1056" font-size="16" textLength="101" lengthAdjust="spacing">SETPOINTS</text>
<text x="197" y="1075.7" font-size="16" textLength="105" lengthAdjust="spacing">(SEE TEXT)</text>
<polyline points="657.6,874.2 657.6,1108" stroke-width="2"/>
<polyline points="90.7,1108.5 755.5,1108.5" stroke-width="2"/>
<circle cx="658.3" cy="1108.2" r="5" fill="#2a2a2a" stroke="none"/>
<circle cx="760.2" cy="1108.6" r="4.6" fill="#fff" stroke="#161616" stroke-width="1.6"/>
<polygon points="765.5,1108.4 807.2,1082.8 807.2,1132.2" stroke-width="3" fill="none"/>
<text x="789" y="1113.5" font-size="14">f</text>
<text x="735.6" y="1101.7" font-size="14" textLength="15" lengthAdjust="spacing">11</text>
<text x="811.3" y="1099.7" font-size="14" textLength="14" lengthAdjust="spacingAndGlyphs">13</text>
<text x="759.6" y="1147.5" font-size="16" textLength="37" lengthAdjust="spacing">IC18</text>
<text x="761" y="1166.2" font-size="16" textLength="65" lengthAdjust="spacing">MC1489</text>
<polyline points="137,1125.8 186.8,1125.8 186.8,1145.6" stroke-width="2"/>
<polyline points="186.8,1145.6 191,1148.1 182.6,1153.2 191,1158.3 182.6,1163.3 191,1168.4 182.6,1173.5 186.8,1176" stroke-width="2"/>
<polyline points="186.8,1176 186.8,1189.5" stroke-width="2"/>
<circle cx="186.8" cy="1190" r="5" fill="#2a2a2a" stroke="none"/>
<polyline points="90,1189.5 718,1189.5 718,1167.8" stroke-width="2"/>
<polygon points="718,1157.2 723,1167.8 713,1167.8" stroke-width="2" fill="#fff"/>
<text x="698" y="1151.1" font-size="16" textLength="31.5" lengthAdjust="spacing">+5V</text>
<text x="643" y="1132.8" font-size="16" textLength="19" lengthAdjust="spacingAndGlyphs">R9</text>
<text x="643" y="1149.5" font-size="16" textLength="37" lengthAdjust="spacing">4.7K</text>
<text x="643" y="1168.2" font-size="16" textLength="33" lengthAdjust="spacing">SIP</text>
<polyline points="842.4,1175 908,1175" stroke-width="2"/>
<polyline points="908,1175 911.5,1180 915,1175 918.5,1180 922,1175 925.5,1180 929,1175 932.5,1180 934,1175" stroke-width="1.6" stroke-dasharray="1.5,1.5" stroke-opacity="0.6"/>
<polyline points="934,1174.5 1159,1173.5" stroke-width="2"/>
<polyline points="934,1174 996,1174" stroke-width="3.2"/>
<text x="900.4" y="1145.4" font-size="16" textLength="27.6" lengthAdjust="spacingAndGlyphs">R10</text>
<text x="900.4" y="1161.7" font-size="16" textLength="30.6" lengthAdjust="spacing">10K</text>
<polyline points="843,1175 843,1364.8" stroke-width="2"/>
<circle cx="843" cy="1239.5" r="5" fill="#2a2a2a" stroke="none"/>
<polyline points="690.5,1240 843,1240" stroke-width="2"/>
<polyline points="690.5,1240 690.5,1391 622.5,1391" stroke-width="2"/>
<polyline points="591.6,1390.5 594.2,1394.5 599.3,1386.5 604.5,1394.5 609.6,1386.5 614.8,1394.5 619.9,1386.5 622.5,1390.5" stroke-width="2"/>
<polyline points="477.2,1391 591.6,1391" stroke-width="2"/>
<polyline points="477.2,1376.3 477.2,1405.7" stroke-width="2.2"/>
<path d="M463,1376.3 Q480,1391 463,1405.7" stroke-width="2.2"/>
<polyline points="90.5,1391 471.5,1391" stroke-width="2"/>
<text x="453.8" y="1345.9" font-size="16" textLength="22.8" lengthAdjust="spacing">C3</text>
<text x="453.8" y="1363" font-size="16" textLength="50.6" lengthAdjust="spacing">0.1µF</text>
<text x="588.2" y="1355" font-size="16" textLength="18.8" lengthAdjust="spacingAndGlyphs">R8</text>
<text x="588.2" y="1375" font-size="16" textLength="41.8" lengthAdjust="spacing">100K</text>
<text x="952.6" y="1208.5" font-size="16" textLength="43.7" lengthAdjust="spacing">+12V</text>
<polygon points="979.2,1219.4 984.2,1229 974.2,1229" stroke-width="2" fill="#fff"/>
<polyline points="979.2,1229 979.2,1244" stroke-width="2"/>
<polyline points="979.2,1244 983.4,1246.7 975,1252.2 983.4,1257.7 975,1263.1 983.4,1268.6 975,1274.1 979.2,1276.8" stroke-width="2"/>
<polyline points="979.8,1276.8 979.8,1374" stroke-width="2"/>
<circle cx="979.8" cy="1334.3" r="5" fill="#2a2a2a" stroke="none"/>
<text x="990.9" y="1249.5" font-size="16" textLength="25.1" lengthAdjust="spacingAndGlyphs">R17</text>
<text x="990.9" y="1267.3" font-size="16" textLength="34.1" lengthAdjust="spacing">33Ω</text>
<text x="1036" y="1292.7" font-size="16" textLength="20" lengthAdjust="spacing">C4</text>
<text x="1036" y="1311" font-size="16" textLength="54" lengthAdjust="spacing">100µF</text>
<polyline points="979.8,1334.5 1041,1334.5" stroke-width="2"/>
<polyline points="1041,1319 1041,1350" stroke-width="2.2"/>
<path d="M1055,1319 Q1041,1334.5 1055,1350" stroke-width="2.2"/>
<polyline points="1048,1334.5 1107.4,1334.5 1107.4,1354.7" stroke-width="2"/>
<polyline points="1097.4,1354.7 1116.4,1354.7" stroke-width="2"/>
<polyline points="1097.4,1354.7 1091.7,1365" stroke-width="2"/>
<polyline points="1106.9,1354.7 1101.2,1365" stroke-width="2"/>
<polyline points="1116.4,1354.7 1110.7,1365" stroke-width="2"/>
<text x="1025" y="1351" font-size="15">+</text>
<polyline points="843.5,1364.8 847.7,1367.2 839.3,1372.1 847.7,1377 839.3,1381.8 847.7,1386.7 839.3,1391.6 843.5,1394" stroke-width="2"/>
<polyline points="844.5,1394 844.5,1452.6" stroke-width="2"/>
<circle cx="844.5" cy="1430.2" r="5" fill="#2a2a2a" stroke="none"/>
<polyline points="834.5,1452.6 853.5,1452.6" stroke-width="2"/>
<polyline points="834.5,1452.6 828.8,1462.9" stroke-width="2"/>
<polyline points="844,1452.6 838.3,1462.9" stroke-width="2"/>
<polyline points="853.5,1452.6 847.8,1462.9" stroke-width="2"/>
<polyline points="850,1376 939.6,1376" stroke-width="2"/>
<polyline points="859.2,1372.8 848.8,1377 859.2,1380.8" stroke-width="2"/>
<text x="802.3" y="1374.3" font-size="16" textLength="26.7" lengthAdjust="spacingAndGlyphs">R11</text>
<text x="803.6" y="1392" font-size="16" textLength="25.4" lengthAdjust="spacingAndGlyphs">10K</text>
<text x="764" y="1412.4" font-size="16" textLength="65" lengthAdjust="spacingAndGlyphs">VOLUME</text>
<polyline points="844.5,1430.2 939.6,1430.2" stroke-width="2"/>
<polygon points="939.6,1351.6 939.6,1452.6 1027.3,1401.2" stroke-width="3.2" fill="none"/>
<text x="928.7" y="1371.2" font-size="14">3</text>
<text x="928.7" y="1424" font-size="14">2</text>
<text x="944.5" y="1381" font-size="15">+</text>
<polyline points="946,1429 955,1429" stroke-width="1.8"/>
<text x="947" y="1408" font-size="16" textLength="37" lengthAdjust="spacing">IC15</text>
<text x="986.7" y="1372.5" font-size="14">6</text>
<text x="1033.7" y="1395.4" font-size="14">5</text>
<text x="988" y="1439.9" font-size="14">4</text>
<polyline points="979.8,1428 979.8,1471" stroke-width="2"/>
<polyline points="969.8,1471 988.8,1471" stroke-width="2"/>
<polyline points="969.8,1471 964.1,1481.3" stroke-width="2"/>
<polyline points="979.3,1471 973.6,1481.3" stroke-width="2"/>
<polyline points="988.8,1471 983.1,1481.3" stroke-width="2"/>
<text x="1004.5" y="1442.4" font-size="16" textLength="36.5" lengthAdjust="spacing">IC15</text>
<text x="1002" y="1460.2" font-size="16" textLength="61" lengthAdjust="spacing">LM386</text>
<polyline points="1027.3,1400.5 1237.3,1399" stroke-width="2"/>
<circle cx="1146.3" cy="1399.8" r="5" fill="#2a2a2a" stroke="none"/>
<polyline points="1243.7,1384 1243.7,1414" stroke-width="2.2"/>
<path d="M1230,1384 Q1244.6,1399 1230,1414" stroke-width="2.2"/>
<polyline points="1243.7,1398.5 1321.2,1398" stroke-width="2"/>
<polygon points="1321.2,1385.6 1345.4,1385.6 1358.9,1398 1345.4,1410.3 1321.2,1410.3" stroke-width="2" fill="none"/>
<text x="1366.5" y="1404" font-size="15">+</text>
<text x="1225" y="1354.3" font-size="16" textLength="21" lengthAdjust="spacing">C6</text>
<text x="1225" y="1373.4" font-size="16" textLength="54" lengthAdjust="spacing">220µF</text>
<text x="1250" y="1392" font-size="14" font-weight="bold">+</text>
<polyline points="1146.3,1400 1146.3,1438" stroke-width="2"/>
<polyline points="1146.3,1438 1150.5,1440.5 1142.1,1445.4 1150.5,1450.3 1142.1,1455.2 1150.5,1460.1 1142.1,1465 1146.3,1467.5" stroke-width="2"/>
<polyline points="1146.3,1467.5 1146.3,1508.7 1237.3,1508.7" stroke-width="2"/>
<polyline points="1243.7,1493.7 1243.7,1523.7" stroke-width="2.2"/>
<path d="M1230,1493.7 Q1244.6,1508.7 1230,1523.7" stroke-width="2.2"/>
<polyline points="1243.7,1508.7 1323.8,1508.7" stroke-width="2"/>
<circle cx="1288.7" cy="1508.7" r="5" fill="#2a2a2a" stroke="none"/>
<polyline points="1288.7,1508.7 1288.7,1537.4" stroke-width="2"/>
<polyline points="1278.7,1537.4 1297.7,1537.4" stroke-width="2"/>
<polyline points="1278.7,1537.4 1273,1547.7" stroke-width="2"/>
<polyline points="1288.2,1537.4 1282.5,1547.7" stroke-width="2"/>
<polyline points="1297.7,1537.4 1292,1547.7" stroke-width="2"/>
<polygon points="1323.8,1495.5 1348,1495.5 1361.4,1508.5 1348,1521 1323.8,1521" stroke-width="2" fill="none"/>
<polyline points="1370,1509 1377,1509" stroke-width="1.6"/>
<text x="1159" y="1442.6" font-size="16" textLength="31" lengthAdjust="spacing">R12</text>
<text x="1159" y="1461" font-size="16" textLength="34" lengthAdjust="spacing">10Ω</text>
<text x="1227" y="1465" font-size="16" textLength="19" lengthAdjust="spacingAndGlyphs">C7</text>
<text x="1227" y="1487.3" font-size="16" textLength="44" lengthAdjust="spacing">0.1µF</text>
<text x="1383.5" y="1450.2" font-size="16" textLength="24.5" lengthAdjust="spacing">8Ω</text>
<text x="1383.5" y="1471.3" font-size="16" textLength="78.9" lengthAdjust="spacing">SPEAKER</text>
<polyline points="1011,1986.3 1015,1986.3" stroke-width="1.3"/>
</svg>
<div class="ln j" style="left:116.7px;top:1685.7px;width:414.3px;">This approach does require one</div>
<div class="ln j" style="left:90.7px;top:1718.3px;width:440.3px;">other design compromise. The 6502</div>
<div class="ln j" style="left:90.7px;top:1750.9px;width:440.3px;">processor is specified to operate at 1</div>
<div class="ln j" style="left:90.7px;top:1783.5px;width:440.3px;">MHz, but, using this crystal and</div>
<div class="ln j" style="left:90.7px;top:1816.1px;width:440.3px;letter-spacing:-0.068px;">divider circuit, only 611 kHz and 1.22</div>
<div class="ln j" style="left:90.7px;top:1848.7px;width:440.3px;">MHz are available as system-clock</div>
<div class="ln j" style="left:90.7px;top:1881.3px;width:440.3px;">signals. The computer must run at</div>
<div class="ln j" style="left:90.7px;top:1913.9px;width:440.3px;">either 61 percent or 122 percent of its</div>
<div class="ln" style="left:90.7px;top:1946.5px;width:440.3px;">rated speed.</div>
<div class="ln j" style="left:117.7px;top:1979.1px;width:413.3px;">Practically speaking, this is not a</div>
<div class="ln j" style="left:564.6px;top:1684.2px;width:440.1px;">problem. The 1-MHz specification is</div>
<div class="ln j" style="left:564.6px;top:1716.9px;width:440.1px;">for worst-case conditions, which you</div>
<div class="ln j" style="left:564.6px;top:1749.6px;width:440.1px;">probably will not have. I have per-</div>
<div class="ln j" style="left:564.6px;top:1782.3px;width:440.1px;">sonally run 1-MHz 6502s at 1.8 MHz</div>
<div class="ln j" style="left:564.6px;top:1815px;width:440.1px;">with no trouble. Furthermore, in the</div>
<div class="ln j" style="left:564.6px;top:1847.7px;width:440.1px;">Microvox application, we can note</div>
<div class="ln j" style="left:564.6px;top:1880.4px;width:440.1px;">that the speech synthesizer requires</div>
<div class="ln j" style="left:564.6px;top:1913.1px;width:440.1px;">data at only about 200 bps to speak</div>
<div class="ln j" style="left:564.6px;top:1945.8px;width:440.1px;">continuously. Processor speed is just</div>
<div class="ln j" style="left:564.6px;top:1978.5px;width:440.1px;">not significant except when receiving</div>
<div class="ln j" style="left:1043.7px;top:1684.2px;width:444px;">and manipulating data at 19,200 bps.</div>
<div class="ln j" style="left:1043.7px;top:1716.7px;width:444px;">Just to be on the conservative side,</div>
<div class="ln j" style="left:1043.7px;top:1749.2px;width:444px;">while the hardware can produce rates</div>
<div class="ln j" style="left:1043.7px;top:1781.7px;width:444px;">from 75 to 19,200 bps, I have speci-</div>
<div class="ln j" style="left:1043.7px;top:1814.2px;width:444px;">fied rates of 150 to 9600 bps for the</div>
<div class="ln" style="left:1043.7px;top:1846.7px;width:444px;">Microvox.</div>
<div class="ln hd" style="left:1043.7px;top:1910.9px;width:300px">Memory Section</div>
<div class="ln j" style="left:1072.7px;top:1944.7px;width:415px">The address-decoding and memory</div>
<div class="ln j" style="left:1043.7px;top:1977.2px;width:444px">section of the Microvox consists of</div>
<div class="ln ft" style="left:1129px;top:2043.3px;width:305px">September 1982 &#169; BYTE Publications Inc</div>
<div class="ln ft2" style="left:1463px;top:2041.6px;width:30px">79</div>
</div></body></html>
